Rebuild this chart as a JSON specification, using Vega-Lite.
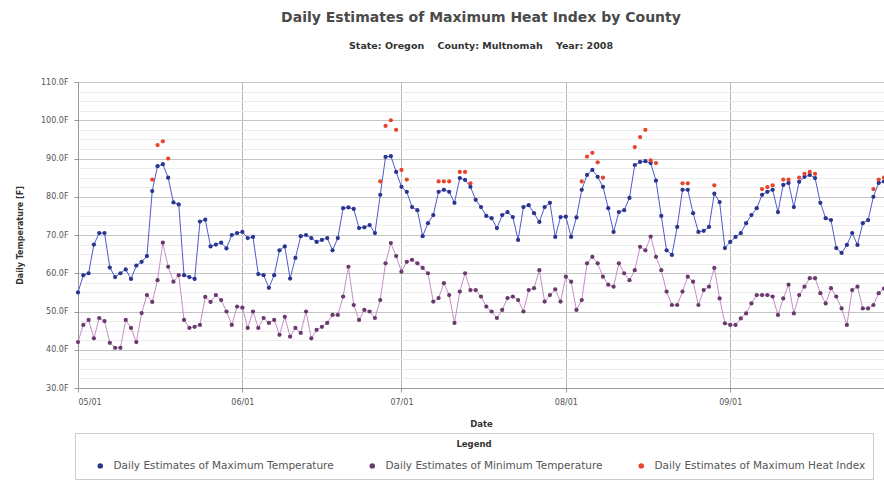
{
  "$schema": "https://vega.github.io/schema/vega-lite/v6.json",
  "width": 806,
  "height": 306,
  "autosize": {"type": "none"},
  "padding": {"left": 78, "top": 82, "right": 0, "bottom": 94},
  "background": "#ffffff",
  "config": {"view": {"stroke": null}, "font": "DejaVu Sans"},
  "title": {
    "text": "Daily Estimates of Maximum Heat Index by County",
    "subtitle": "State: Oregon\u00a0\u00a0\u00a0 County: Multnomah\u00a0\u00a0\u00a0 Year: 2008",
    "anchor": "middle",
    "font": "DejaVu Sans",
    "fontSize": 14,
    "fontWeight": "bold",
    "color": "#4a4a4a",
    "subtitleFont": "DejaVu Sans",
    "subtitleFontSize": 9.5,
    "subtitleFontWeight": "bold",
    "subtitleColor": "#333333",
    "subtitlePadding": 16,
    "offset": 28
  },
  "data": {"values": [
    {"date":"2008-05-01","max":55,"min":42},
    {"date":"2008-05-02","max":59.5,"min":46.5},
    {"date":"2008-05-03","max":60,"min":47.8},
    {"date":"2008-05-04","max":67.5,"min":43},
    {"date":"2008-05-05","max":70.5,"min":48.3},
    {"date":"2008-05-06","max":70.5,"min":47.5},
    {"date":"2008-05-07","max":61.5,"min":41.8},
    {"date":"2008-05-08","max":59,"min":40.5},
    {"date":"2008-05-09","max":60,"min":40.5},
    {"date":"2008-05-10","max":61,"min":47.8},
    {"date":"2008-05-11","max":58.5,"min":45.7},
    {"date":"2008-05-12","max":62,"min":42},
    {"date":"2008-05-13","max":63,"min":49.6},
    {"date":"2008-05-14","max":64.5,"min":54.3},
    {"date":"2008-05-15","max":81.5,"min":52.5,"hi":84.5},
    {"date":"2008-05-16","max":88,"min":58.2,"hi":93.5},
    {"date":"2008-05-17","max":88.5,"min":68,"hi":94.5},
    {"date":"2008-05-18","max":85,"min":61.7,"hi":90},
    {"date":"2008-05-19","max":78.5,"min":57.8},
    {"date":"2008-05-20","max":78,"min":59.5},
    {"date":"2008-05-21","max":59.5,"min":47.8},
    {"date":"2008-05-22","max":59,"min":45.7},
    {"date":"2008-05-23","max":58.5,"min":46},
    {"date":"2008-05-24","max":73.5,"min":46.5},
    {"date":"2008-05-25","max":74,"min":53.8},
    {"date":"2008-05-26","max":67,"min":52.5},
    {"date":"2008-05-27","max":67.5,"min":54.3},
    {"date":"2008-05-28","max":68,"min":53},
    {"date":"2008-05-29","max":66.5,"min":50},
    {"date":"2008-05-30","max":70,"min":46.5},
    {"date":"2008-05-31","max":70.5,"min":51.3},
    {"date":"2008-06-01","max":70.8,"min":51},
    {"date":"2008-06-02","max":69.2,"min":45.7},
    {"date":"2008-06-03","max":69.5,"min":50},
    {"date":"2008-06-04","max":59.8,"min":45.7},
    {"date":"2008-06-05","max":59.5,"min":48.3},
    {"date":"2008-06-06","max":56.2,"min":47},
    {"date":"2008-06-07","max":59.5,"min":47.8},
    {"date":"2008-06-08","max":66,"min":43.9},
    {"date":"2008-06-09","max":67,"min":48.6},
    {"date":"2008-06-10","max":58.6,"min":43.4},
    {"date":"2008-06-11","max":64,"min":45.7},
    {"date":"2008-06-12","max":69.7,"min":44.4},
    {"date":"2008-06-13","max":70,"min":50},
    {"date":"2008-06-14","max":69.2,"min":43},
    {"date":"2008-06-15","max":68.2,"min":45.2},
    {"date":"2008-06-16","max":68.7,"min":46},
    {"date":"2008-06-17","max":69.2,"min":47},
    {"date":"2008-06-18","max":66,"min":49.1},
    {"date":"2008-06-19","max":69.2,"min":49.1},
    {"date":"2008-06-20","max":77,"min":53.9},
    {"date":"2008-06-21","max":77.2,"min":61.7},
    {"date":"2008-06-22","max":76.8,"min":51.7},
    {"date":"2008-06-23","max":71.8,"min":47.8},
    {"date":"2008-06-24","max":72,"min":50.4},
    {"date":"2008-06-25","max":72.6,"min":50},
    {"date":"2008-06-26","max":70.5,"min":48.3},
    {"date":"2008-06-27","max":80.5,"min":53,"hi":84},
    {"date":"2008-06-28","max":90.4,"min":62.6,"hi":98.5},
    {"date":"2008-06-29","max":90.6,"min":67.9,"hi":100},
    {"date":"2008-06-30","max":86.5,"min":64.5,"hi":97.5},
    {"date":"2008-07-01","max":82.6,"min":60.4,"hi":87},
    {"date":"2008-07-02","max":81.3,"min":63,"hi":84.5},
    {"date":"2008-07-03","max":77.3,"min":63.5},
    {"date":"2008-07-04","max":76.5,"min":62.6},
    {"date":"2008-07-05","max":69.7,"min":61.4},
    {"date":"2008-07-06","max":73.1,"min":60},
    {"date":"2008-07-07","max":75.2,"min":52.6},
    {"date":"2008-07-08","max":81.3,"min":53.5,"hi":84},
    {"date":"2008-07-09","max":81.8,"min":57.4,"hi":84},
    {"date":"2008-07-10","max":81.3,"min":54.3,"hi":84},
    {"date":"2008-07-11","max":78.4,"min":47},
    {"date":"2008-07-12","max":84.9,"min":55.2,"hi":86.5},
    {"date":"2008-07-13","max":84.4,"min":60,"hi":86.5},
    {"date":"2008-07-14","max":82.6,"min":55.6,"hi":83.5},
    {"date":"2008-07-15","max":79.2,"min":55.6},
    {"date":"2008-07-16","max":77.3,"min":53.9},
    {"date":"2008-07-17","max":75,"min":51.3},
    {"date":"2008-07-18","max":74.4,"min":50},
    {"date":"2008-07-19","max":71.8,"min":48.3},
    {"date":"2008-07-20","max":75.2,"min":50.4},
    {"date":"2008-07-21","max":76,"min":53.5},
    {"date":"2008-07-22","max":74.7,"min":53.9},
    {"date":"2008-07-23","max":68.7,"min":53},
    {"date":"2008-07-24","max":77.3,"min":50},
    {"date":"2008-07-25","max":77.8,"min":55.6},
    {"date":"2008-07-26","max":75.7,"min":56.1},
    {"date":"2008-07-27","max":73.4,"min":60.8},
    {"date":"2008-07-28","max":77.3,"min":52.6},
    {"date":"2008-07-29","max":78.4,"min":54.3},
    {"date":"2008-07-30","max":69.5,"min":55.8},
    {"date":"2008-07-31","max":74.7,"min":52.6},
    {"date":"2008-08-01","max":74.8,"min":59.1},
    {"date":"2008-08-02","max":69.5,"min":57.8},
    {"date":"2008-08-03","max":74.6,"min":50.4},
    {"date":"2008-08-04","max":81.8,"min":53,"hi":84},
    {"date":"2008-08-05","max":85.7,"min":62.6,"hi":90.5},
    {"date":"2008-08-06","max":87,"min":64.3,"hi":91.5},
    {"date":"2008-08-07","max":85.2,"min":62.6,"hi":89},
    {"date":"2008-08-08","max":82.6,"min":59.1,"hi":85},
    {"date":"2008-08-09","max":77,"min":57},
    {"date":"2008-08-10","max":70.8,"min":56.5},
    {"date":"2008-08-11","max":76,"min":62.6},
    {"date":"2008-08-12","max":76.5,"min":60},
    {"date":"2008-08-13","max":79.7,"min":58.2},
    {"date":"2008-08-14","max":88.3,"min":60.8,"hi":93},
    {"date":"2008-08-15","max":89.1,"min":66.9,"hi":95.6},
    {"date":"2008-08-16","max":89.3,"min":66,"hi":97.5},
    {"date":"2008-08-17","max":88.8,"min":69.6,"hi":89.5},
    {"date":"2008-08-18","max":84.2,"min":64.3,"hi":88.8},
    {"date":"2008-08-19","max":75,"min":60.8},
    {"date":"2008-08-20","max":66,"min":55.2},
    {"date":"2008-08-21","max":64.8,"min":51.7},
    {"date":"2008-08-22","max":72.1,"min":51.7},
    {"date":"2008-08-23","max":81.8,"min":55.2,"hi":83.5},
    {"date":"2008-08-24","max":81.8,"min":59.1,"hi":83.5},
    {"date":"2008-08-25","max":75.7,"min":57.8},
    {"date":"2008-08-26","max":70.8,"min":51.7},
    {"date":"2008-08-27","max":71.1,"min":55.6},
    {"date":"2008-08-28","max":72.1,"min":56.5},
    {"date":"2008-08-29","max":80.8,"min":61.4,"hi":83},
    {"date":"2008-08-30","max":78.6,"min":53.4},
    {"date":"2008-08-31","max":66.6,"min":46.9},
    {"date":"2008-09-01","max":68.2,"min":46.5},
    {"date":"2008-09-02","max":69.5,"min":46.5},
    {"date":"2008-09-03","max":70.5,"min":48.2},
    {"date":"2008-09-04","max":73.1,"min":49.5},
    {"date":"2008-09-05","max":75.2,"min":52.1},
    {"date":"2008-09-06","max":77,"min":54.3},
    {"date":"2008-09-07","max":80.5,"min":54.3,"hi":82},
    {"date":"2008-09-08","max":81.3,"min":54.3,"hi":82.5},
    {"date":"2008-09-09","max":81.8,"min":53.9,"hi":83},
    {"date":"2008-09-10","max":76,"min":49.1},
    {"date":"2008-09-11","max":83.1,"min":53.4,"hi":84.5},
    {"date":"2008-09-12","max":83.6,"min":57,"hi":84.5},
    {"date":"2008-09-13","max":77.3,"min":49.5},
    {"date":"2008-09-14","max":83.9,"min":54.3,"hi":85},
    {"date":"2008-09-15","max":85.2,"min":56.5,"hi":86},
    {"date":"2008-09-16","max":85.7,"min":58.7,"hi":86.5},
    {"date":"2008-09-17","max":84.9,"min":58.7,"hi":86},
    {"date":"2008-09-18","max":78.4,"min":54.8},
    {"date":"2008-09-19","max":74.4,"min":52.1},
    {"date":"2008-09-20","max":73.9,"min":56.1},
    {"date":"2008-09-21","max":66.6,"min":53.9},
    {"date":"2008-09-22","max":65.3,"min":50.8},
    {"date":"2008-09-23","max":67.4,"min":46.5},
    {"date":"2008-09-24","max":70.5,"min":55.6},
    {"date":"2008-09-25","max":67.4,"min":56.5},
    {"date":"2008-09-26","max":73.1,"min":50.8},
    {"date":"2008-09-27","max":73.9,"min":50.8},
    {"date":"2008-09-28","max":80,"min":51.7,"hi":82},
    {"date":"2008-09-29","max":83.6,"min":54.8,"hi":84.5},
    {"date":"2008-09-30","max":84,"min":56,"hi":85}
  ]},
  "transform": [
    {"fold": ["max", "min", "hi"], "as": ["series", "temp"]},
    {"filter": "isValid(datum.temp)"}
  ],
  "layer": [
    {
      "transform": [{"filter": "datum.series != 'hi'"}],
      "mark": {"type": "line", "strokeWidth": 1},
      "encoding": {
        "x": {
          "field": "date", "type": "temporal",
          "scale": {"type": "utc", "domain": [{"year": 2008, "month": 5, "date": 1, "utc": true}, {"year": 2008, "month": 9, "date": 30, "utc": true}]},
          "axis": {
            "values": [{"year": 2008, "month": 5, "date": 1, "utc": true}, {"year": 2008, "month": 6, "date": 1, "utc": true}, {"year": 2008, "month": 7, "date": 1, "utc": true}, {"year": 2008, "month": 8, "date": 1, "utc": true}, {"year": 2008, "month": 9, "date": 1, "utc": true}],
            "labelExpr": "utcFormat(datum.value, '%m/%d')",
            "title": "Date", "titleFontWeight": "bold", "titleFontSize": 8.5, "titleColor": "#333333", "titlePadding": 13,
            "labelFontSize": 8, "labelColor": "#555555", "labelPadding": 6,
            "grid": true, "gridColor": "#b8b8b8", "domainColor": "#999999", "tickColor": "#999999", "tickSize": 4
          }
        },
        "y": {
          "field": "temp", "type": "quantitative",
          "scale": {"domain": [30, 110], "nice": false, "zero": false},
          "axis": {
            "orient": "right",
            "values": [32.5, 35, 37.5, 42.5, 45, 47.5, 52.5, 55, 57.5, 62.5, 65, 67.5, 72.5, 75, 77.5, 82.5, 85, 87.5, 92.5, 95, 97.5, 102.5, 105, 107.5],
            "labels": false, "ticks": false, "domain": false, "grid": true, "gridColor": "#ececec", "title": null
          }
        },
        "stroke": {"field": "series", "type": "nominal", "scale": {"domain": ["max", "min"], "range": ["#4f5bcf", "#c58ec5"]}, "legend": null}
      }
    },
    {
      "encoding": {
        "x": {
          "field": "date", "type": "temporal",
          "scale": {"type": "utc", "domain": [{"year": 2008, "month": 5, "date": 1, "utc": true}, {"year": 2008, "month": 9, "date": 30, "utc": true}]},
          "axis": {
            "values": [{"year": 2008, "month": 5, "date": 1, "utc": true}, {"year": 2008, "month": 6, "date": 1, "utc": true}, {"year": 2008, "month": 7, "date": 1, "utc": true}, {"year": 2008, "month": 8, "date": 1, "utc": true}, {"year": 2008, "month": 9, "date": 1, "utc": true}],
            "labelExpr": "utcFormat(datum.value, '%m/%d')",
            "title": "Date", "titleFontWeight": "bold", "titleFontSize": 8.5, "titleColor": "#333333", "titlePadding": 13,
            "labelFontSize": 8, "labelColor": "#555555", "labelPadding": 6,
            "grid": true, "gridColor": "#b8b8b8", "domainColor": "#999999", "tickColor": "#999999", "tickSize": 4
          }
        },
        "y": {
          "field": "temp", "type": "quantitative",
          "scale": {"domain": [30, 110], "nice": false, "zero": false},
          "axis": {
            "orient": "left",
            "values": [30, 40, 50, 60, 70, 80, 90, 100, 110],
            "labelExpr": "format(datum.value, '.1f') + 'F'",
            "title": "Daily Temperature [F]", "titleFontSize": 8, "titleFontWeight": "bold", "titleColor": "#333333", "titlePadding": 16,
            "labelFontSize": 8, "labelColor": "#555555", "labelPadding": 6,
            "grid": true, "gridColor": "#c4c4c4", "domainColor": "#999999", "tickColor": "#999999", "tickSize": 4
          }
        },
        "color": {
          "field": "series", "type": "nominal",
          "scale": {"domain": ["max", "min", "hi"], "range": ["#2a3590", "#6a3a6e", "#e8452c"]},
          "legend": {
            "title": "Legend", "orient": "none", "legendX": -3, "legendY": 351,
            "direction": "horizontal", "columns": 3, "titleAnchor": "middle",
            "titleFontSize": 8.5, "titleFontWeight": "bold", "titleColor": "#333333", "titlePadding": 12,
            "labelFontSize": 10.5, "labelColor": "#555555", "labelLimit": 400, "labelOffset": 8,
            "symbolType": "circle", "symbolSize": 30, "symbolOffset": 13,
            "columnPadding": 20, "padding": 7,
            "strokeColor": "#cccccc", "fillColor": "#ffffff",
            "labelExpr": "datum.label == 'max' ? 'Daily Estimates of Maximum Temperature' : datum.label == 'min' ? 'Daily Estimates of Minimum Temperature' : 'Daily Estimates of Maximum Heat Index'"
          }
        }
      },
      "layer": [
        {
          "transform": [{"filter": "datum.series != 'hi'"}],
          "mark": {"type": "point", "filled": true, "size": 18, "opacity": 1}
        },
        {
          "transform": [{"filter": "datum.series == 'hi'"}],
          "mark": {"type": "point", "filled": true, "size": 18, "opacity": 1}
        }
      ]
    }
  ],
  "resolve": {"axis": {"y": "independent"}}
}
